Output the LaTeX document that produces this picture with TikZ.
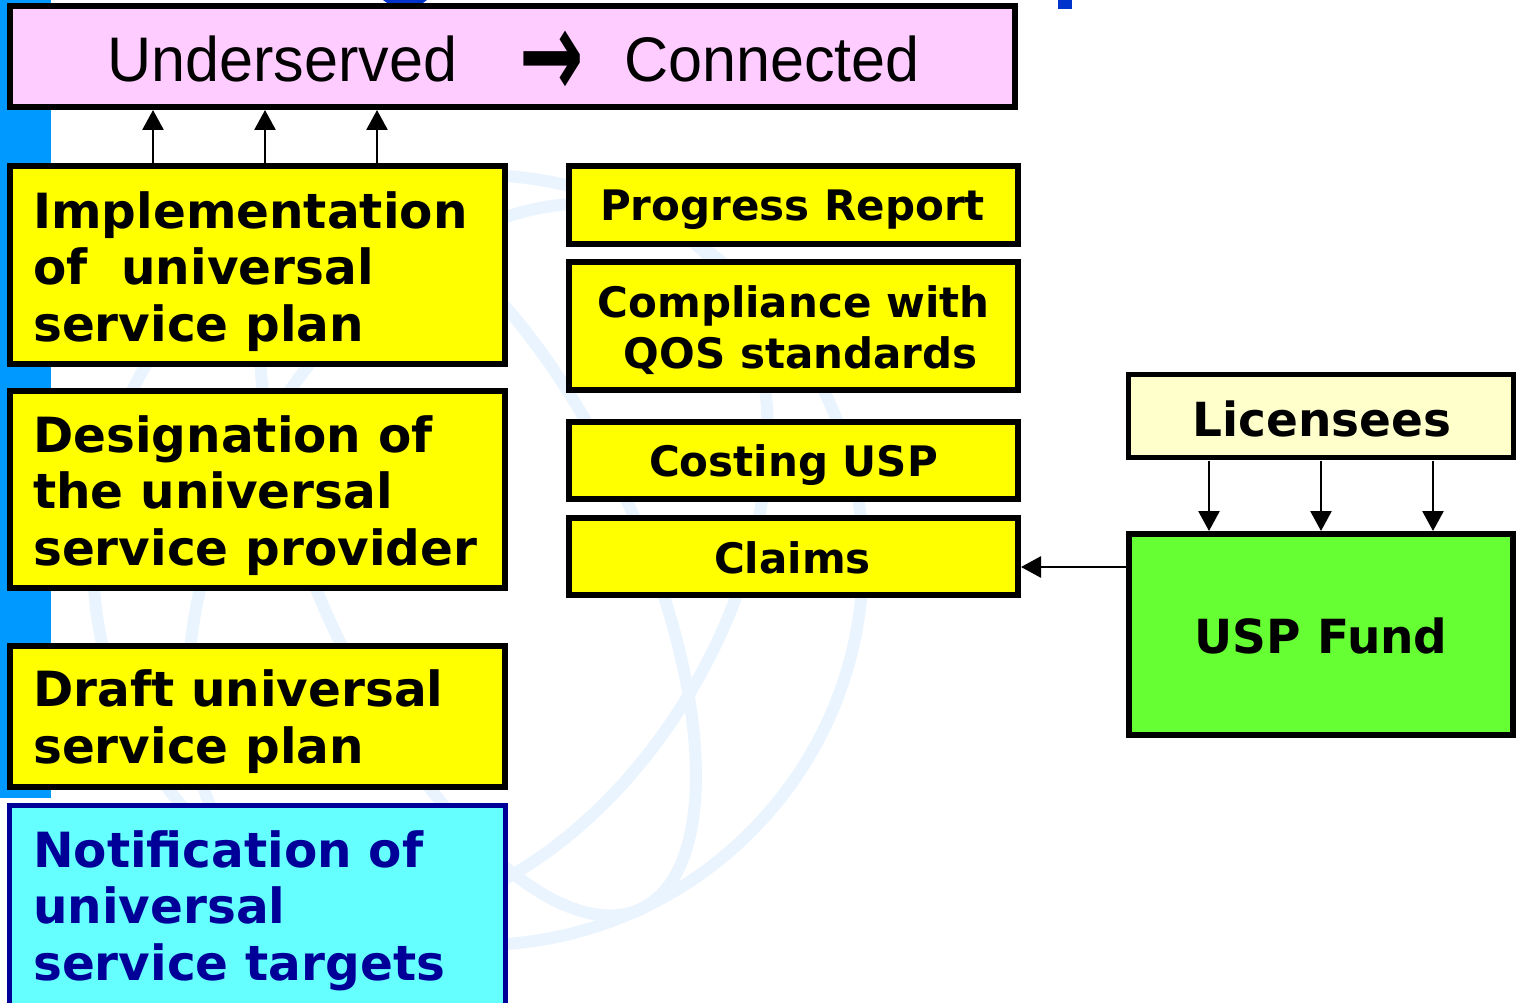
\documentclass[tikz,border=0pt]{standalone}
\usepackage{fontspec}
\setmainfont{DejaVu Sans}
\newfontfamily\titlefont[FakeStretch=0.97]{Liberation Sans}
\newfontfamily\arrowfont{DejaVu Sans}
\usetikzlibrary{arrows.meta}
\definecolor{pinkfill}{HTML}{FFCCFF}
\definecolor{yellowfill}{HTML}{FFFF00}
\definecolor{cyanfill}{HTML}{66FFFF}
\definecolor{navy}{HTML}{000099}
\definecolor{creamfill}{HTML}{FFFFCC}
\definecolor{greenfill}{HTML}{66FF33}
\definecolor{stripblue}{HTML}{0099FF}
\definecolor{titleblue}{HTML}{0033CC}
\definecolor{globeblue}{HTML}{EAF4FE}
\begin{document}
\begin{tikzpicture}[x=1pt,y=-1pt,
  box/.style={draw=black, line width=6pt, fill=yellowfill, inner sep=0pt, outer sep=3pt},
  lt/.style={font=\bfseries\fontsize{48.5}{56.5}\selectfont, align=left, inner sep=0pt, anchor=base west},
  rt/.style={font=\bfseries\fontsize{42}{51}\selectfont, align=center, inner sep=0pt, anchor=base},
  bt/.style={font=\bfseries\fontsize{47}{56}\selectfont, inner sep=0pt, anchor=base},
  tt/.style={font=\titlefont\fontsize{63}{70}\selectfont, inner sep=0pt, anchor=base west},
  conn/.style={line width=2.7pt, -{Triangle[width=21pt,length=20pt]}},
  globe/.style={draw=globeblue, line width=12pt}]
\useasboundingbox (0,0) rectangle (1516,1003);
\fill[white] (0,0) rectangle (1516,1003);
% background
\fill[stripblue] (0,0) rectangle (51,798);
\draw[globe] (478,560) circle (385);
\draw[globe, rotate around={25:(478,560)}] (478,560) ellipse (160 and 385);
\draw[globe, rotate around={-30:(478,560)}] (478,560) ellipse (250 and 385);
\fill[titleblue] (1058,0) rectangle (1072,9);
\fill[titleblue] (383,0) -- (427,0) -- (420,5) -- (390,5) -- cycle;
% title box
\node[box, fill=pinkfill, minimum width=1005pt, minimum height=101pt] (title) at (512.5,56.5) {};
\node[tt] (t1) at (107,82) {Underserved};
\node[font=\arrowfont\bfseries\fontsize{77}{80}\selectfont, inner sep=0pt, anchor=base west] (tarrow) at (519,82) {\raisebox{-16pt}{\scalebox{1}[1.6]{→}}};
\node[tt] (t2) at (624,82) {Connected};
% left column
\node[box, minimum width=495pt, minimum height=198pt] (impl) at (257.5,265) {};
\node[lt] (impl-t) at (33,341) {Implementation\\of\ \ universal\\service plan};
\node[box, minimum width=495pt, minimum height=197pt] (desig) at (257.5,489.5) {};
\node[lt] (desig-t) at (33,565) {Designation of\\the universal\\service provider};
\node[box, minimum width=495pt, minimum height=141pt] (draft) at (257.5,716.5) {};
\node[lt] (draft-t) at (33,763) {Draft universal\\service plan};
\node[box, draw=navy, line width=5pt, fill=cyanfill, minimum width=496pt, minimum height=210pt] (notif) at (257.5,910) {};
\node[lt, text=navy] (notif-t) at (33,980) {Notification of\\universal\\service targets};
% right column
\node[box, minimum width=449pt, minimum height=78pt] (prog) at (793.5,205) {};
\node[rt] (prog-t) at (792.5,221) {Progress Report};
\node[box, minimum width=449pt, minimum height=128pt] (comp) at (793.5,326) {};
\node[rt] (comp-t) at (793.5,368) {Compliance with\\\hspace*{0.35em}QOS standards};
\node[box, minimum width=449pt, minimum height=77pt] (cost) at (793.5,460.5) {};
\node[rt] (cost-t) at (793.5,476) {Costing USP};
\node[box, minimum width=449pt, minimum height=77pt] (claims) at (793.5,556.5) {};
\node[rt] (claims-t) at (792.5,573) {Claims};
% funding
\node[box, fill=creamfill, line width=5pt, minimum width=385pt, minimum height=83pt] (lic) at (1321,416) {};
\node[bt] (lic-t) at (1322,436) {Licensees};
\node[box, fill=greenfill, minimum width=384pt, minimum height=201pt] (fund) at (1321,634.5) {};
\node[bt] (fund-t) at (1321,653) {USP Fund};
% connector columns
\coordinate (c1) at (153,0);
\coordinate (c2) at (265,0);
\coordinate (c3) at (377,0);
\coordinate (d1) at (1209,0);
\coordinate (d2) at (1321,0);
\coordinate (d3) at (1433,0);
\coordinate (e1) at (0,567);
\draw[conn] (impl.north -| c1) -- (title.south -| c1);
\draw[conn] (impl.north -| c2) -- (title.south -| c2);
\draw[conn] (impl.north -| c3) -- (title.south -| c3);
\draw[conn] (lic.south -| d1) -- (fund.north -| d1);
\draw[conn] (lic.south -| d2) -- (fund.north -| d2);
\draw[conn] (lic.south -| d3) -- (fund.north -| d3);
\draw[conn] (fund.west |- e1) -- (claims.east |- e1);
\end{tikzpicture}
\end{document}
